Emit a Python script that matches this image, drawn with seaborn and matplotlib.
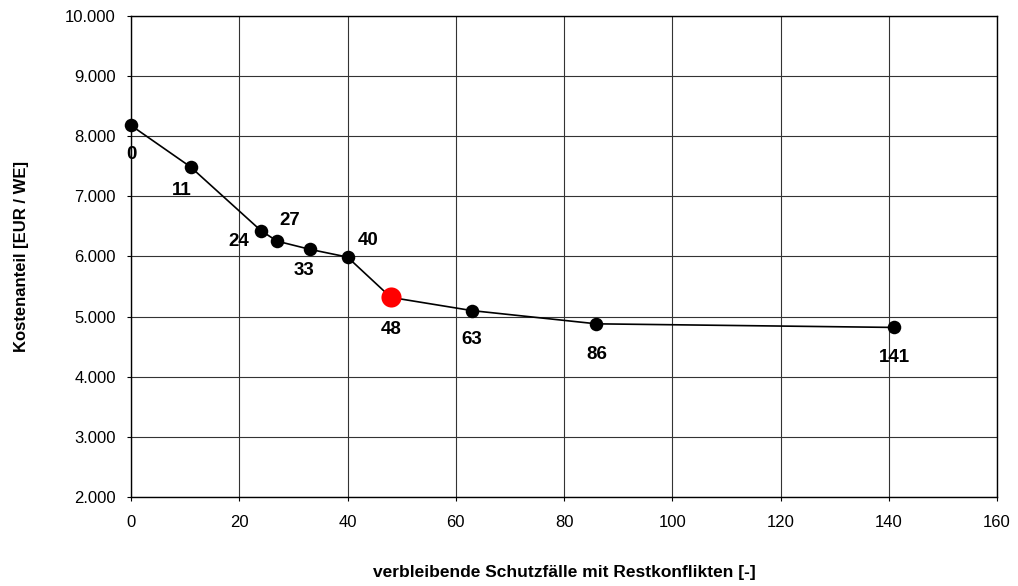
import matplotlib
matplotlib.use("Agg")
import matplotlib.pyplot as plt
import seaborn as sns
import pandas as pd
from matplotlib.ticker import FuncFormatter, MultipleLocator

# values
faelle = [0, 11, 24, 27, 33, 40, 48, 63, 86, 141]
kosten = [8180, 7490, 6430, 6255, 6120, 5990, 5320, 5100, 4880, 4820]
labels = ["0", "11", "24", "27", "33", "40", "48", "63", "86", "141"]
highlight = 48

# label offsets in points (dx, dy)
offsets = [(0, -21), (-6, -17), (-16, -8), (9, 15), (-4, -15),
           (15, 12), (0, -23), (0, -21), (0, -22), (0, -22)]

data = pd.DataFrame({"faelle": faelle, "kosten": kosten})

sns.set_style("white")
plt.rcParams["font.family"] = ["Liberation Sans", "DejaVu Sans"]
plt.rcParams["text.color"] = "black"
plt.rcParams["xtick.color"] = "black"
plt.rcParams["ytick.color"] = "black"
plt.rcParams["axes.labelcolor"] = "black"

fig = plt.figure(figsize=(10.18, 5.86), dpi=100)
ax = fig.add_axes([0.1287, 0.1519, 0.8507, 0.8208])

sns.lineplot(data=data, x="faelle", y="kosten", color="black", linewidth=1.2,
             ax=ax, zorder=3)
normal = data[data["faelle"] != highlight]
red = data[data["faelle"] == highlight]
sns.scatterplot(data=normal, x="faelle", y="kosten", color="black", s=95,
                edgecolor="black", linewidth=0, ax=ax, zorder=4, clip_on=False)
sns.scatterplot(data=red, x="faelle", y="kosten", color="#ff0000", s=210,
                edgecolor="#ff0000", linewidth=0, ax=ax, zorder=5, clip_on=False)

for x, y, lab, (dx, dy) in zip(faelle, kosten, labels, offsets):
    ax.annotate(lab, (x, y), xytext=(dx, dy), textcoords="offset points",
                ha="center", va="center", fontsize=13.5, fontweight="bold",
                color="black")

ax.set_xlim(0, 160)
ax.set_ylim(2000, 10000)
ax.xaxis.set_major_locator(MultipleLocator(20))
ax.yaxis.set_major_locator(MultipleLocator(1000))
ax.yaxis.set_major_formatter(FuncFormatter(lambda v, p: f"{int(v):,}".replace(",", ".")))
ax.grid(True, color="#333333", linewidth=0.8)
ax.set_axisbelow(True)
for s in ax.spines.values():
    s.set_color("black")
    s.set_linewidth(1.0)
ax.tick_params(axis="both", length=3, width=0.8, color="black", labelsize=12,
               direction="out", bottom=True, left=True)
ax.tick_params(axis="x", pad=10)
ax.tick_params(axis="y", pad=8)

ax.set_xlabel("verbleibende Schutzfälle mit Restkonflikten [-]", fontsize=12.5,
              fontweight="bold", labelpad=25)
ax.set_ylabel("Kostenanteil [EUR / WE]", fontsize=12, fontweight="bold", labelpad=26)

fig.savefig("out.png", dpi=100)
